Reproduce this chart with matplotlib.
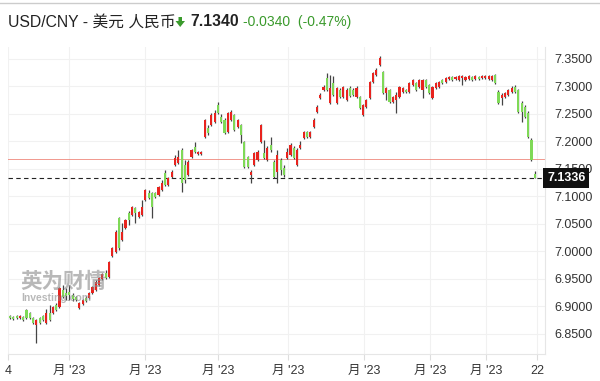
import matplotlib
matplotlib.use("Agg")
import matplotlib.pyplot as plt
from matplotlib.patches import Polygon
from matplotlib.transforms import blended_transform_factory
import numpy as np

plt.rcParams["font.family"] = ["Liberation Sans", "Noto Sans CJK SC", "DejaVu Sans"]

# daily USD/CNY candles
opens = [
    6.883, 6.881, 6.883, 6.879, 6.881, 6.894, 6.888, 6.879, 6.866, 6.879,
    6.883, 6.870, 6.888, 6.888, 6.903, 6.899, 6.930, 6.925, 6.926, 6.921,
    6.917, 6.897, 6.905, 6.916, 6.916, 6.925, 6.930, 6.939, 6.950, 6.961,
    6.954, 6.992, 6.999, 7.061, 7.021, 7.043, 7.070, 7.066, 7.079, 7.063,
    7.066, 7.094, 7.106, 7.106, 7.106, 7.103, 7.112, 7.143, 7.121, 7.136,
    7.157, 7.161, 7.185, 7.157, 7.139, 7.172, 7.190, 7.177, 7.177, 7.208,
    7.225, 7.230, 7.235, 7.266, 7.245, 7.239, 7.217, 7.239, 7.248, 7.226,
    7.230, 7.199, 7.172, 7.139, 7.157, 7.166, 7.199, 7.179, 7.166, 7.194,
    7.163, 7.145, 7.166, 7.152, 7.170, 7.175, 7.188, 7.157, 7.188, 7.206,
    7.217, 7.208, 7.226, 7.254, 7.279, 7.294, 7.315, 7.270, 7.306, 7.270,
    7.294, 7.281, 7.276, 7.297, 7.294, 7.281, 7.281, 7.248, 7.263, 7.279,
    7.308, 7.321, 7.339, 7.326, 7.288, 7.294, 7.272, 7.276, 7.281, 7.290,
    7.294, 7.290, 7.303, 7.306, 7.299, 7.294, 7.312, 7.303, 7.279, 7.297,
    7.299, 7.312, 7.308, 7.314, 7.317, 7.314, 7.312, 7.315, 7.312, 7.314,
    7.317, 7.314, 7.317, 7.315, 7.315, 7.314, 7.312, 7.321, 7.290, 7.279,
    7.281, 7.285, 7.290, 7.299, 7.294, 7.270, 7.263, 7.252, 7.203, 7.141,
]
closes = [
    6.879, 6.877, 6.879, 6.883, 6.876, 6.879, 6.879, 6.870, 6.876, 6.870,
    6.876, 6.888, 6.876, 6.899, 6.894, 6.934, 6.917, 6.919, 6.921, 6.914,
    6.912, 6.906, 6.912, 6.910, 6.925, 6.936, 6.945, 6.952, 6.959, 6.952,
    6.981, 7.006, 7.036, 7.006, 7.036, 7.057, 7.057, 7.081, 7.070, 7.072,
    7.081, 7.112, 7.097, 7.081, 7.099, 7.117, 7.125, 7.121, 7.134, 7.145,
    7.170, 7.172, 7.125, 7.130, 7.163, 7.185, 7.181, 7.181, 7.181, 7.239,
    7.215, 7.248, 7.252, 7.252, 7.235, 7.215, 7.252, 7.254, 7.221, 7.239,
    7.212, 7.154, 7.154, 7.145, 7.179, 7.181, 7.230, 7.170, 7.188, 7.185,
    7.136, 7.176, 7.148, 7.139, 7.181, 7.194, 7.170, 7.185, 7.194, 7.217,
    7.208, 7.217, 7.239, 7.263, 7.285, 7.299, 7.294, 7.297, 7.285, 7.297,
    7.281, 7.299, 7.294, 7.283, 7.285, 7.297, 7.261, 7.266, 7.276, 7.308,
    7.325, 7.330, 7.352, 7.288, 7.297, 7.272, 7.281, 7.285, 7.299, 7.297,
    7.290, 7.306, 7.312, 7.294, 7.312, 7.312, 7.299, 7.288, 7.299, 7.306,
    7.308, 7.306, 7.315, 7.317, 7.312, 7.317, 7.319, 7.319, 7.317, 7.319,
    7.312, 7.319, 7.314, 7.319, 7.319, 7.319, 7.319, 7.306, 7.270, 7.285,
    7.288, 7.294, 7.297, 7.290, 7.254, 7.254, 7.245, 7.208, 7.166, 7.134,
]
highs = [
    6.885, 6.883, 6.885, 6.885, 6.883, 6.896, 6.890, 6.881, 6.877, 6.881,
    6.885, 6.896, 6.903, 6.901, 6.906, 6.936, 6.939, 6.934, 6.939, 6.925,
    6.919, 6.908, 6.914, 6.919, 6.926, 6.937, 6.948, 6.954, 6.961, 6.966,
    6.983, 7.008, 7.039, 7.063, 7.052, 7.059, 7.074, 7.083, 7.081, 7.074,
    7.094, 7.114, 7.112, 7.108, 7.108, 7.119, 7.130, 7.148, 7.136, 7.148,
    7.176, 7.185, 7.188, 7.166, 7.166, 7.186, 7.199, 7.183, 7.183, 7.241,
    7.230, 7.252, 7.257, 7.272, 7.250, 7.243, 7.254, 7.257, 7.250, 7.241,
    7.232, 7.201, 7.174, 7.148, 7.181, 7.185, 7.232, 7.203, 7.192, 7.208,
    7.166, 7.185, 7.170, 7.157, 7.188, 7.197, 7.192, 7.188, 7.201, 7.219,
    7.219, 7.219, 7.243, 7.266, 7.288, 7.303, 7.325, 7.321, 7.319, 7.299,
    7.297, 7.301, 7.297, 7.301, 7.297, 7.301, 7.283, 7.268, 7.277, 7.310,
    7.326, 7.334, 7.356, 7.328, 7.299, 7.295, 7.283, 7.290, 7.301, 7.299,
    7.295, 7.308, 7.314, 7.308, 7.314, 7.314, 7.314, 7.305, 7.301, 7.308,
    7.310, 7.314, 7.317, 7.319, 7.319, 7.319, 7.321, 7.321, 7.319, 7.321,
    7.319, 7.321, 7.319, 7.321, 7.321, 7.321, 7.321, 7.323, 7.294, 7.288,
    7.290, 7.295, 7.301, 7.303, 7.295, 7.274, 7.266, 7.255, 7.206, 7.146,
]
lows = [
    6.877, 6.876, 6.877, 6.877, 6.874, 6.877, 6.877, 6.868, 6.834, 6.868,
    6.874, 6.868, 6.874, 6.886, 6.892, 6.897, 6.916, 6.912, 6.912, 6.910,
    6.910, 6.896, 6.903, 6.908, 6.914, 6.923, 6.928, 6.937, 6.948, 6.950,
    6.952, 6.990, 6.997, 7.003, 7.019, 7.041, 7.048, 7.065, 7.052, 7.061,
    7.065, 7.092, 7.096, 7.061, 7.097, 7.101, 7.110, 7.119, 7.119, 7.134,
    7.155, 7.159, 7.108, 7.125, 7.137, 7.170, 7.179, 7.175, 7.175, 7.206,
    7.212, 7.228, 7.234, 7.250, 7.234, 7.214, 7.215, 7.237, 7.219, 7.225,
    7.197, 7.152, 7.152, 7.125, 7.155, 7.165, 7.197, 7.168, 7.165, 7.181,
    7.134, 7.125, 7.139, 7.136, 7.168, 7.174, 7.168, 7.155, 7.186, 7.205,
    7.206, 7.206, 7.225, 7.252, 7.277, 7.292, 7.292, 7.268, 7.283, 7.268,
    7.279, 7.279, 7.274, 7.281, 7.283, 7.279, 7.259, 7.246, 7.261, 7.277,
    7.306, 7.319, 7.337, 7.286, 7.276, 7.270, 7.270, 7.252, 7.279, 7.288,
    7.288, 7.288, 7.301, 7.292, 7.297, 7.279, 7.297, 7.286, 7.277, 7.295,
    7.297, 7.305, 7.306, 7.312, 7.310, 7.312, 7.310, 7.303, 7.310, 7.312,
    7.310, 7.312, 7.312, 7.314, 7.314, 7.312, 7.310, 7.305, 7.268, 7.266,
    7.279, 7.283, 7.288, 7.288, 7.252, 7.235, 7.243, 7.206, 7.165, 7.134,
]

prev_close = 7.168
last_price = 7.1336
y_ticks = [6.85, 6.90, 6.95, 7.00, 7.05, 7.10, 7.15, 7.20, 7.25, 7.30, 7.35]
x_tick_pos = [-0.6, 17.9, 40.9, 63.0, 84.2, 107.3, 127.3, 144.2, 159.7]
x_tick_labels = ["4", "月 '23", "月 '23", "月 '23", "月 '23", "月 '23", "月 '23", "月 '23", "22"]

UP = "#e8231e"
DOWN = "#7fd957"
WICK = "#444444"

fig = plt.figure(figsize=(6.0, 3.81), dpi=100)
ax = fig.add_axes([8 / 600, 1 - 354 / 381, 537 / 600, 307 / 381])

x = np.arange(len(opens))
o = np.array(opens)
c = np.array(closes)
up = c >= o
colors = np.where(up, UP, DOWN)

ax.vlines(x, lows, highs, color=WICK, linewidth=0.9, zorder=2)
ax.bar(x, np.abs(c - o), bottom=np.minimum(o, c), width=0.64,
       color=colors, linewidth=0, zorder=3)

ax.axhline(prev_close, color="#ee7f72", linewidth=0.7, alpha=0.8, zorder=1)
ax.axhline(last_price, color="#222222", linewidth=0.8, dashes=(4, 3), zorder=1)

ax.set_xlim(-0.6, 162.1)
ax.set_ylim(6.8136, 7.3718)

ax.yaxis.tick_right()
ax.set_yticks(y_ticks)
ax.set_yticklabels([f"{v:.4f}" for v in y_ticks])
ax.tick_params(axis="y", length=0, pad=7, labelsize=9, labelcolor="#333333")
ax.set_xticks(x_tick_pos)
ax.set_xticklabels(x_tick_labels)
ax.tick_params(axis="x", length=4, width=0.8, color="#dddddd", pad=4,
               labelsize=9, labelcolor="#333333")

ax.grid(True, color="#f1f1f1", linewidth=0.8, zorder=0)
ax.set_axisbelow(True)
for side in ["top", "left"]:
    ax.spines[side].set_visible(False)
for side in ["right", "bottom"]:
    ax.spines[side].set_color("#e6e6e6")
    ax.spines[side].set_linewidth(0.8)

# last price tag on the right axis
trans = blended_transform_factory(ax.transAxes, ax.transData)
ax.text(1.004, last_price, f"{last_price:.4f}", transform=trans, ha="left", va="center",
        fontsize=9, color="white", fontweight="bold", clip_on=False, zorder=10,
        bbox=dict(boxstyle="square,pad=0.3", facecolor="#111111", edgecolor="none"))

# watermark
fig.text(20 / 600, 1 - 281 / 381, "英为财情", fontsize=15.5, fontweight="bold",
         color="#8a8a8a", alpha=0.6, ha="left", va="center",
         family=["Noto Sans CJK SC", "DejaVu Sans"])
fig.text(21 / 600, 1 - 298 / 381, "Investing.com", fontsize=7.5, fontweight="bold",
         color="#8a8a8a", alpha=0.6, ha="left", va="center")

# header
fig.add_artist(plt.Line2D([0, 1], [1 - 3 / 381, 1 - 3 / 381], color="#cccccc", linewidth=1))
hy = 1 - 22 / 381
fig.text(8 / 600, hy, "USD/CNY - 美元 人民币", fontsize=11.3, color="#222222",
         ha="left", va="center")
fig.add_artist(Polygon(
    [(178.5 / 600, 1 - 17 / 381), (182 / 600, 1 - 17 / 381), (182 / 600, 1 - 21 / 381),
     (185 / 600, 1 - 21 / 381), (180.2 / 600, 1 - 27 / 381), (175.5 / 600, 1 - 21 / 381),
     (178.5 / 600, 1 - 21 / 381)],
    closed=True, facecolor="#3a9a2c", edgecolor="none", transform=fig.transFigure))
fig.text(190 / 600, hy, "7.1340", fontsize=11.3, fontweight="bold", color="#222222",
         ha="left", va="center")
fig.text(243 / 600, hy, "-0.0340  (-0.47%)", fontsize=10, color="#3a9a2c",
         ha="left", va="center")

fig.savefig("out.png", dpi=100, facecolor="white")
